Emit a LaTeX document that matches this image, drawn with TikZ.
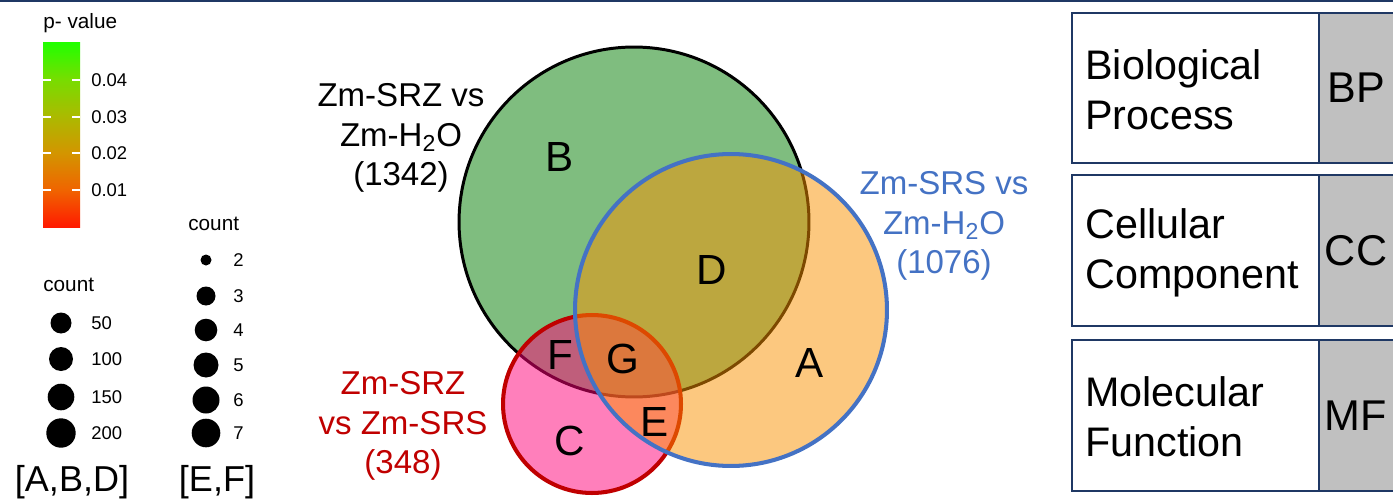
\documentclass[tikz,border=0pt]{standalone}
\usepackage{fontspec}
\setmainfont{Liberation Sans}
\definecolor{navy}{HTML}{1F3864}
\definecolor{vgreen}{RGB}{0,125,0}
\definecolor{vpink}{RGB}{255,0,120}
\definecolor{vorange}{RGB}{250,146,0}
\definecolor{vred}{HTML}{C00000}
\definecolor{vblue}{HTML}{4472C4}
\definecolor{boxgrey}{HTML}{C0C0C0}
\definecolor{pc0}{HTML}{FF1A00}
\definecolor{pc1}{HTML}{F06400}
\definecolor{pc2}{HTML}{D39500}
\definecolor{pc3}{HTML}{ABBA00}
\definecolor{pc4}{HTML}{77DD00}
\definecolor{pc5}{HTML}{22FF00}
\pgfdeclareverticalshading{pbar}{100bp}{color(0bp)=(pc0); color(25bp)=(pc0); color(35.05bp)=(pc1); color(45.1bp)=(pc2); color(55.15bp)=(pc3); color(65.2bp)=(pc4); color(75bp)=(pc5); color(100bp)=(pc5)}
\tikzset{
  small/.style={font=\fontsize{10.5}{12}\selectfont, inner sep=0pt},
  legtitle/.style={font=\fontsize{11.8}{13}\selectfont, inner sep=0pt},
  venn/.style={font=\fontsize{18.8}{22.7}\selectfont, align=center, inner sep=0pt},
  letter/.style={font=\fontsize{24}{28}\selectfont, inner sep=0pt},
  boxtxt/.style={font=\fontsize{23.5}{28.4}\selectfont, align=left, inner sep=0pt, anchor=west},
  abbr/.style={font=\fontsize{24.5}{26}\selectfont, inner sep=0pt},
  dot/.style={fill=black},
  tick/.style={white, line width=0.7pt},
  gobox/.style={draw=navy, line width=1.4pt},
}
\begin{document}
\begin{tikzpicture}[x=0.02cm, y=-0.02cm]
\useasboundingbox (0,0) rectangle (1393,500);
\clip (0,0) rectangle (1393,500);
\fill[white] (0,0) rectangle (1393,500);
\draw[navy, line width=1.2pt] (0,1) -- (1393,1);

% p-value colour bar
\node[legtitle, anchor=west] (ptitle) at (43,23) {p- value};
\shade[shading=pbar] (43,43) rectangle (80,227);
\foreach \yy/\lab/\nm in {80/0.04/a, 117/0.03/b, 153/0.02/c, 190/0.01/d}{
  \draw[tick] (43,\yy) -- (51,\yy);
  \draw[tick] (72,\yy) -- (80,\yy);
  \node[small, anchor=west] (pv\nm) at (91,\yy) {\lab};
}

% count legend A,B,D
\node[legtitle, anchor=west] (cnt1) at (43,285) {count};
\foreach \yy/\r/\lab/\nm in {323/10.5/50/a, 359/12/100/b, 397/13.3/150/c, 433/14.7/200/d}{
  \fill[dot] (61,\yy) circle[radius=\r*0.02cm];
  \node[small, anchor=west] (la\nm) at (91,\yy) {\lab};
}
% count legend E,F
\node[legtitle, anchor=west] (cnt2) at (188,224) {count};
\foreach \yy/\r/\lab/\nm in {260/5.5/2/a, 296/9.5/3/b, 330/11.3/4/c, 365/12.5/5/d, 400/13.5/6/e, 433/14.3/7/f}{
  \fill[dot] (206,\yy) circle[radius=\r*0.02cm];
  \node[small, anchor=west] (lb\nm) at (233,\yy) {\lab};
}
\node[font=\fontsize{20.5}{22}\selectfont, inner sep=0pt] (abd) at (72,482) {[A,B,D]};
\node[font=\fontsize{20.5}{22}\selectfont, inner sep=0pt] (ef) at (217,482) {[E,F]};

% Venn diagram
\fill[vgreen, fill opacity=0.5] (634,222) circle[radius=3.5cm];
\draw[black, line width=1.7pt] (634,222) circle[radius=3.5cm];
\fill[vpink, fill opacity=0.5] (592,404) circle[radius=1.78cm];
\draw[vred, line width=2.3pt] (592,404) circle[radius=1.78cm];
\fill[vorange, fill opacity=0.5] (731,310) circle[radius=3.12cm];
\draw[vblue, line width=2.3pt] (731,310) circle[radius=3.12cm];

\node[letter] (lB) at (560,157) {B};
\node[letter] (lD) at (712,270) {D};
\node[letter] (lA) at (810,363) {A};
\node[letter] (lF) at (560,355) {F};
\node[letter] (lG) at (623,359) {G};
\node[letter] (lE) at (655,422) {E};
\node[letter] (lC) at (570,441) {C};

\node[venn] (srzh) at (401,138) {Zm-SRZ vs\\Zm-H\textsubscript{2}O\\(1342)};
\node[venn, text=vblue] (srsh) at (944,226) {Zm-SRS vs\\Zm-H\textsubscript{2}O\\(1076)};
\node[venn, text=vred] (srzsrs) at (403,426) {Zm-SRZ\\vs Zm-SRS\\(348)};

% GO category boxes
\foreach \top/\bot/\nm in {13/163/bp, 175/326/cc, 340/491/mf}{
  \fill[boxgrey] (1319,\top) rectangle (1400,\bot);
  \draw[gobox] (1400,\top) -- (1072,\top) -- (1072,\bot) -- (1400,\bot);
  \draw[gobox] (1319,\top) -- (1319,\bot);
}
\node[boxtxt] (tbp) at (1085,90) {Biological\\Process};
\node[boxtxt] (tcc) at (1085,253) {Cellular\\Component};
\node[boxtxt] (tmf) at (1085,417) {Molecular\\Function};
\node[abbr] (abp) at (1356,88) {BP};
\node[abbr] (acc) at (1356,251) {CC};
\node[abbr] (amf) at (1356,416) {MF};
\end{tikzpicture}
\end{document}
